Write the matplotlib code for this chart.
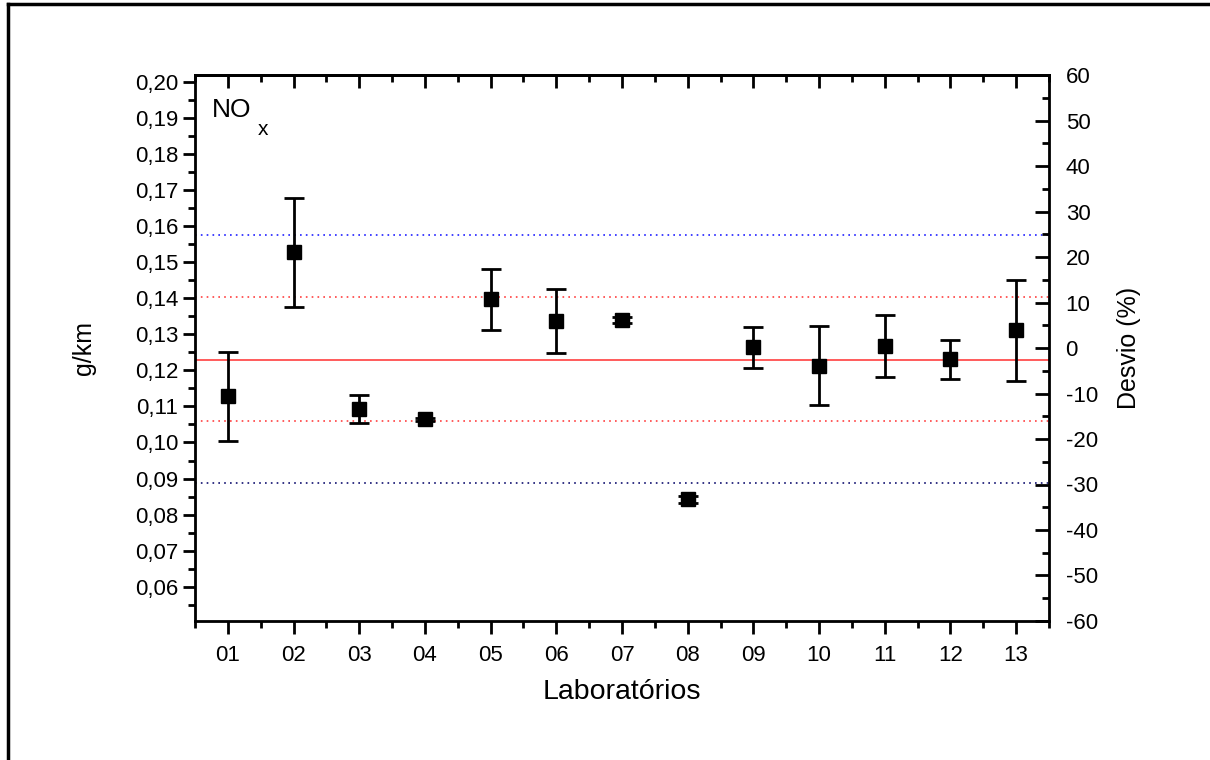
import numpy as np
import matplotlib
from matplotlib import pyplot as plt
from matplotlib.lines import Line2D
from matplotlib.ticker import MultipleLocator, FuncFormatter

matplotlib.rc("font", family=["Liberation Sans", "DejaVu Sans"], size=15)
plt.rcParams["axes.unicode_minus"] = False

# dados
labs = ["01", "02", "03", "04", "05", "06", "07", "08", "09", "10", "11", "12", "13"]
valores = [0.1128, 0.1527, 0.1093, 0.1064, 0.1397, 0.1337, 0.1339, 0.0842,
           0.1264, 0.1213, 0.1268, 0.1231, 0.1311]
erros = [0.0124, 0.0150, 0.0040, 0.0005, 0.0084, 0.0090, 0.0008, 0.0010,
         0.0057, 0.0110, 0.0086, 0.0054, 0.0140]
media = 0.123
lim_vermelho = [0.1404, 0.1059]
lim_azul = [0.1576, 0.0887]

fig = plt.figure(figsize=(12.1, 7.6), dpi=100)
ax = fig.add_axes([0.1612, 0.1829, 0.7057, 0.7184])

x = np.arange(1, len(labs) + 1)
ax.errorbar(x, valores, yerr=erros, fmt="s", color="black", ms=10,
            elinewidth=2, capsize=7, capthick=2, zorder=5)

ax.axhline(media, color="#ff4040", lw=1.2)
for v in lim_vermelho:
    ax.axhline(v, color="#ff4040", lw=1.2, ls=(0, (1, 2.5)))
ax.axhline(lim_azul[0], color="#2020ff", lw=1.2, ls=(0, (1, 2.5)))
ax.axhline(lim_azul[1], color="#101070", lw=1.2, ls=(0, (1, 2.5)))

ax.set_xlim(0.5, 13.5)
ax.set_ylim(0.0505, 0.2019)
ax.set_xticks(x)
ax.set_xticklabels(labs)
ax.xaxis.set_minor_locator(MultipleLocator(0.5))
ax.yaxis.set_minor_locator(MultipleLocator(0.005))
ax.set_yticks(np.arange(0.06, 0.2001, 0.01))
ax.yaxis.set_major_formatter(FuncFormatter(lambda v, p: f"{v:.2f}".replace(".", ",")))

ax.tick_params(axis="both", which="major", direction="out", length=9, width=2, labelsize=16)
ax.tick_params(axis="both", which="minor", direction="out", length=5, width=2)
ax.tick_params(axis="x", which="major", pad=8)
ax.tick_params(axis="y", which="major", pad=3)

for s in ax.spines.values():
    s.set_linewidth(2)

# eixo direito (desvio)
ax2 = ax.twinx()
ax2.set_ylim(-60, 60)
ax2.yaxis.set_major_locator(MultipleLocator(10))
ax2.yaxis.set_minor_locator(MultipleLocator(5))
ax2.tick_params(axis="y", which="major", direction="in", length=10, width=2, labelsize=16, pad=12)
ax2.tick_params(axis="y", which="minor", direction="in", length=5, width=2)
ax2.set_ylabel("Desvio (%)", fontsize=18, labelpad=14)

# ticks do topo para dentro
top = ax.secondary_xaxis("top")
top.set_xticks(x)
top.set_xticklabels([])
top.xaxis.set_minor_locator(MultipleLocator(0.5))
top.tick_params(which="major", direction="in", length=9, width=2)
top.tick_params(which="minor", direction="in", length=5, width=2)
top.spines["top"].set_linewidth(2)

ax.set_xlabel("Laboratórios", fontsize=20.5, labelpad=10)
ax.set_ylabel("g/km", fontsize=18, labelpad=28)
ax.text(0.02, 0.957, "NO", transform=ax.transAxes, fontsize=19, va="top")
ax.text(0.074, 0.918, "x", transform=ax.transAxes, fontsize=15, va="top")

# moldura
fig.add_artist(Line2D([0.0062, 0.0062], [0, 0.9945], transform=fig.transFigure, color="black", lw=2.5))
fig.add_artist(Line2D([0.0062, 1], [0.9945, 0.9945], transform=fig.transFigure, color="black", lw=2.5))

plt.savefig("out.png", dpi=100)
